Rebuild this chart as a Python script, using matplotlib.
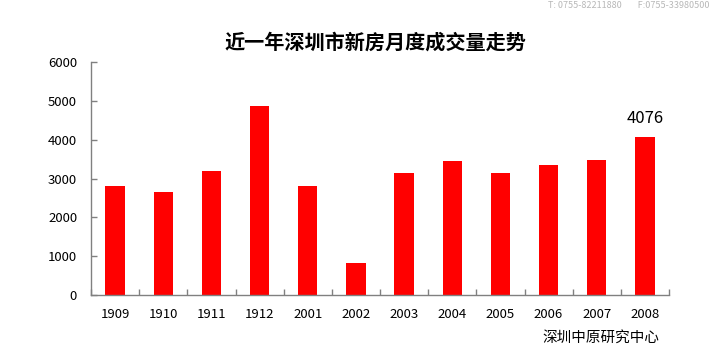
import matplotlib
matplotlib.use("Agg")
import matplotlib.pyplot as plt
import numpy as np

plt.rcParams['font.family'] = ['Noto Sans CJK SC', 'DejaVu Sans']

categories = ['1909', '1910', '1911', '1912', '2001', '2002', '2003', '2004', '2005', '2006', '2007', '2008']
values = [2805, 2655, 3196, 4871, 2805, 825, 3144, 3454, 3144, 3350, 3480, 4076]
yticks = [0, 1000, 2000, 3000, 4000, 5000, 6000]
title = '近一年深圳市新房月度成交量走势'
source = '深圳中原研究中心'
header = 'T: 0755-82211880        F:0755-33980500'

fig = plt.figure(figsize=(7.11, 3.56), dpi=100)
ax = fig.add_axes([91/711, 1-295/356, (669-91)/711, (295-62)/356])

x = np.arange(len(categories))
ax.bar(x, values, width=0.4, color='#ff0000', zorder=2)
ax.set_xlim(-0.5, len(categories)-0.5)
ax.set_ylim(0, 6000)
ax.set_yticks(yticks)
ax.set_yticklabels([str(v) for v in yticks], fontsize=9.5)
ax.set_xticks(x)
ax.set_xticklabels(categories, fontsize=9.5)
ax.tick_params(axis='x', length=0, pad=9)
ax.set_xticks(np.arange(-0.5, len(categories)), minor=True)
ax.tick_params(axis='x', which='minor', direction='in', length=4, color='#808080', width=1)
ax.tick_params(axis='y', direction='in', length=4, color='#808080', width=1, pad=10)
for s in ['top', 'right']:
    ax.spines[s].set_visible(False)
for s in ['left', 'bottom']:
    ax.spines[s].set_color('#808080')
    ax.spines[s].set_linewidth(1)

ax.annotate(str(values[-1]), xy=(x[-1], values[-1]), xytext=(0, 7), textcoords='offset points',
            ha='center', va='bottom', fontsize=12)

fig.text(375/711, 1-42/356, title, ha='center', va='center', fontsize=14.5, fontweight='bold')
fig.text(659/711, 1-338/356, source, ha='right', va='center', fontsize=10.5)
fig.text(709/711, 1-0.5/356, header, ha='right', va='top', fontsize=6.5, color='#b8b8b8')

fig.savefig('out.png', dpi=100)
